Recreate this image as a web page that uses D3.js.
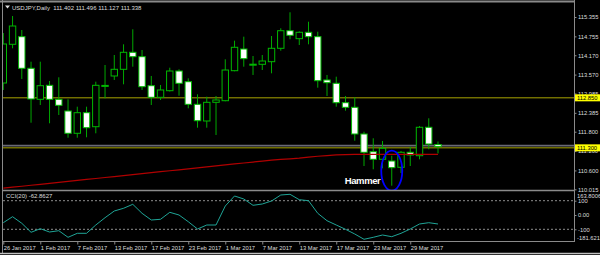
<!DOCTYPE html>
<html>
<head>
<meta charset="utf-8">
<script src="https://cdn.jsdelivr.net/npm/d3@7"></script>
<style>
body { margin: 0; background: #000; }
svg text { font-family: "Liberation Sans", Arial, sans-serif; white-space: pre; }
</style>
</head>
<body>
<svg id="chart" width="600" height="255"></svg>
<script>
var dates = ["26 Jan 2017","27 Jan 2017","30 Jan 2017","31 Jan 2017","1 Feb 2017","2 Feb 2017","3 Feb 2017","6 Feb 2017",
    "7 Feb 2017","8 Feb 2017","9 Feb 2017","10 Feb 2017","13 Feb 2017","14 Feb 2017","15 Feb 2017","16 Feb 2017",
    "17 Feb 2017","20 Feb 2017","21 Feb 2017","22 Feb 2017","23 Feb 2017","24 Feb 2017","27 Feb 2017","28 Feb 2017",
    "1 Mar 2017","2 Mar 2017","3 Mar 2017","6 Mar 2017","7 Mar 2017","8 Mar 2017","9 Mar 2017","10 Mar 2017",
    "13 Mar 2017","14 Mar 2017","15 Mar 2017","16 Mar 2017","17 Mar 2017","20 Mar 2017","21 Mar 2017","22 Mar 2017",
    "23 Mar 2017","24 Mar 2017","27 Mar 2017","28 Mar 2017","29 Mar 2017","30 Mar 2017","31 Mar 2017","3 Apr 2017"];

var opens  = [113.310,114.509,114.745,113.765,112.804,113.238,112.804,112.442,111.751,112.389,111.955,113.217,
              113.527,113.734,114.261,114.125,113.226,112.866,113.071,113.681,113.350,112.649,112.132,112.711,
              112.761,113.691,114.363,113.886,113.889,113.970,114.385,114.930,114.683,114.881,114.745,113.403,
              113.300,112.699,112.556,111.729,111.180,110.945,110.892,110.697,111.162,111.056,111.937,111.402];
var highs  = [114.859,115.386,114.952,113.970,113.970,113.372,113.486,112.804,112.575,112.575,113.350,113.867,
              114.177,114.509,114.974,114.332,113.527,113.248,113.784,113.734,113.455,112.959,112.885,112.907,
              114.044,114.621,114.745,114.146,114.177,114.766,115.005,115.501,114.912,115.209,114.899,113.558,
              113.505,112.907,112.866,111.800,111.596,111.512,111.056,111.202,111.335,111.977,112.216,111.496];
var lows   = [113.093,114.385,113.434,112.079,112.628,112.061,112.318,111.614,111.614,111.627,111.751,112.835,
              113.403,113.269,113.815,113.093,112.628,112.783,113.046,112.916,112.525,111.924,111.924,111.698,
              112.742,113.672,113.815,113.558,113.712,113.610,114.311,114.664,114.487,114.509,113.164,112.907,
              112.575,112.451,111.521,110.737,110.635,110.666,110.127,110.520,110.737,110.945,111.255,111.127];
var closes = [114.518,115.076,113.765,112.814,113.226,112.804,112.618,111.751,112.389,111.924,113.238,113.235,
              113.734,114.261,114.125,113.195,112.866,113.093,113.681,113.300,112.649,112.141,112.711,112.783,
              113.712,114.416,114.063,113.892,113.991,114.385,114.930,114.788,114.881,114.745,113.381,113.319,
              112.699,112.556,111.729,111.162,110.945,111.286,110.685,111.162,111.078,111.937,111.419,111.338];

var maValues = [110.05,110.08,110.11,110.14,110.17,110.20,110.23,110.26,110.29,110.32,110.35,110.38,
                110.41,110.44,110.47,110.50,110.53,110.56,110.59,110.62,110.65,110.68,110.71,110.74,
                110.77,110.80,110.83,110.86,110.89,110.92,110.94,110.96,110.98,111.01,111.04,111.06,
                111.08,111.09,111.10,111.10,111.10,111.10,111.10,111.10,111.10,111.10,111.10,111.10];

var cciValues = [-53.8,-11.9,-58.0,-121.0,-95.8,-118.9,-109.8,-156.0,-128.0,-128.0,-70.0,-18.9,
                 28.0,46.9,74.8,11.9,-35.0,-30.0,18.9,0.0,-46.9,-97.9,-70.0,-70.0,
                 62.9,132.9,111.9,67.8,76.9,97.9,139.9,144.8,107.0,100.0,11.9,-39.9,
                 -70.0,-100.0,-132.9,-169.9,-156.0,-139.9,-151.7,-128.0,-97.9,-62.9,-53.8,-62.86];

var dateTicks = ["26 Jan 2017","1 Feb 2017","7 Feb 2017","13 Feb 2017","17 Feb 2017","23 Feb 2017",
                 "1 Mar 2017","7 Mar 2017","13 Mar 2017","17 Mar 2017","23 Mar 2017","29 Mar 2017"];
var priceTicks = [115.355,114.755,114.170,113.570,112.985,112.385,111.800,111.200,110.600,110.015];
var cciTicks = [100, 0, -100];
var cciMax = 163.8006, cciMin = -181.6213;
var levelLines = [112.850, 111.300];
var bidPrice = 111.338;
var titleText = "USDJPY,Daily  111.402 111.496 111.127 111.338";
var cciTitle = "CCI(20) -62.8627";
var hammerIdx = 42;

var left = 3, right = 574;
var mainTop = 2, mainBottom = 190.5, cciTop = 191, cciBottom = 241.5;

var svg = d3.select("#chart");
svg.append("rect").attr("width", 600).attr("height", 255).attr("fill", "#000");

var x = d3.scalePoint().domain(dates).range([3.3, 438]);
var y = d3.scaleLinear().domain([110.015, 115.355]).range([189.3, 17]);
var yc = d3.scaleLinear().domain([-100, 100]).range([229.3, 200.7]);

svg.append("clipPath").attr("id", "mainClip")
    .append("rect").attr("x", left).attr("y", mainTop).attr("width", right - left).attr("height", mainBottom - mainTop);
svg.append("clipPath").attr("id", "cciClip")
    .append("rect").attr("x", left).attr("y", cciTop).attr("width", right - left).attr("height", cciBottom - cciTop);

var main = svg.append("g").attr("clip-path", "url(#mainClip)");

// level lines + bid line
main.selectAll("line.level")
    .data(levelLines)
    .enter().append("line")
    .attr("class", "level")
    .attr("x1", left).attr("x2", right)
    .attr("y1", function(d) { return y(d); })
    .attr("y2", function(d) { return y(d); })
    .attr("stroke", "#a8a400").attr("stroke-width", 1);

main.append("line")
    .attr("x1", left).attr("x2", right)
    .attr("y1", y(bidPrice) - 1).attr("y2", y(bidPrice) - 1)
    .attr("stroke", "#6a6a74").attr("stroke-width", 1.6);

var bars = dates.map(function(d, i) {
    return { date: d, o: opens[i], h: highs[i], l: lows[i], c: closes[i] };
});

main.selectAll("line.wick")
    .data(bars)
    .enter().append("line")
    .attr("class", "wick")
    .attr("x1", function(d) { return x(d.date); })
    .attr("x2", function(d) { return x(d.date); })
    .attr("y1", function(d) { return y(d.h); })
    .attr("y2", function(d) { return y(d.l); })
    .attr("stroke", "#00a800").attr("stroke-width", 1);

main.selectAll("rect.body")
    .data(bars)
    .enter().append("rect")
    .attr("class", "body")
    .attr("x", function(d) { return x(d.date) - 3.2; })
    .attr("width", 6.4)
    .attr("y", function(d) { return y(Math.max(d.o, d.c)); })
    .attr("height", function(d) { return Math.max(1, Math.abs(y(d.o) - y(d.c))); })
    .attr("fill", function(d) { return d.c < d.o ? "#fff" : "#000"; })
    .attr("stroke", "#00b800").attr("stroke-width", 1);

// moving average
var maLine = d3.line()
    .x(function(d, i) { return x(dates[i]); })
    .y(function(d) { return y(d); });
main.append("path")
    .datum(maValues)
    .attr("d", maLine)
    .attr("fill", "none")
    .attr("stroke", "#b00000").attr("stroke-width", 1.2);

// hammer marker
var hb = bars[hammerIdx];
var hx = x(hb.date);
var hcy = (y(hb.h) + y(hb.l)) / 2;
main.append("ellipse")
    .attr("cx", hx).attr("cy", hcy)
    .attr("rx", 10.5).attr("ry", (y(hb.l) - y(hb.h)) / 2 + 5)
    .attr("fill", "none").attr("stroke", "#0000ff").attr("stroke-width", 1.8);
main.append("text")
    .attr("x", hx - 11).attr("y", hcy + 13.5)
    .attr("text-anchor", "end")
    .attr("font-size", 9.5)
    .attr("font-weight", "bold")
    .attr("textLength", 36)
    .attr("fill", "#fff")
    .text("Hammer");

// CCI panel
var cci = svg.append("g").attr("clip-path", "url(#cciClip)");
cci.selectAll("line.lvl")
    .data([100, -100])
    .enter().append("line")
    .attr("x1", left).attr("x2", right)
    .attr("y1", function(d) { return yc(d); })
    .attr("y2", function(d) { return yc(d); })
    .attr("stroke", "#b0b0b0").attr("stroke-width", 0.8)
    .attr("stroke-dasharray", "2,2");

var cciLine = d3.line()
    .x(function(d, i) { return x(dates[i]); })
    .y(function(d) { return yc(d); });
cci.append("path")
    .datum(cciValues)
    .attr("d", cciLine)
    .attr("fill", "none")
    .attr("stroke", "#1fa496").attr("stroke-width", 1);

cci.append("text")
    .attr("x", 6).attr("y", 197.5)
    .attr("font-size", 6).attr("fill", "#ddd")
    .text(cciTitle);

// frame
var gray = "#8a8a8a";
svg.append("line").attr("x1", 0).attr("x2", right).attr("y1", 1.5).attr("y2", 1.5).attr("stroke", gray).attr("stroke-width", 2);
svg.append("line").attr("x1", 2.5).attr("x2", 2.5).attr("y1", 0).attr("y2", 253).attr("stroke", gray).attr("stroke-width", 1);
svg.append("line").attr("x1", right + 0.5).attr("x2", right + 0.5).attr("y1", 0).attr("y2", 242).attr("stroke", gray).attr("stroke-width", 1);
svg.append("line").attr("x1", 2).attr("x2", right).attr("y1", mainBottom).attr("y2", mainBottom).attr("stroke", gray).attr("stroke-width", 1.5);
svg.append("line").attr("x1", 2).attr("x2", right + 1).attr("y1", cciBottom).attr("y2", cciBottom).attr("stroke", gray).attr("stroke-width", 1);
svg.append("line").attr("x1", 0).attr("x2", 600).attr("y1", 253.5).attr("y2", 253.5).attr("stroke", "#c0c0c0").attr("stroke-width", 1.5);

// title
svg.append("path").attr("d", "M5,5.5 L10,5.5 L7.5,8.5 Z").attr("fill", "#ddd");
svg.append("text")
    .attr("x", 12).attr("y", 9.5)
    .attr("font-size", 6).attr("fill", "#ddd")
    .text(titleText);

// price axis
var priceAxis = svg.append("g")
    .attr("transform", "translate(" + (right + 0.5) + ",0)")
    .call(d3.axisRight(y).tickValues(priceTicks).tickSize(2).tickPadding(1.5).tickFormat(d3.format(".3f")));
priceAxis.select(".domain").remove();

var cciAxis = svg.append("g")
    .attr("transform", "translate(" + (right + 0.5) + ",0)")
    .call(d3.axisRight(yc).tickValues(cciTicks).tickSize(2).tickPadding(1.5)
        .tickFormat(function(d) { return d === 0 ? "0.00" : d; }));
cciAxis.select(".domain").remove();

[priceAxis, cciAxis].forEach(function(a) {
    a.attr("font-family", null).attr("font-size", null);
    a.selectAll("line").attr("stroke", gray);
    a.selectAll("text").attr("fill", "#ddd").attr("font-size", 5.8);
});

svg.selectAll("text.cciExt")
    .data([cciMax, cciMin])
    .enter().append("text")
    .attr("class", "cciExt")
    .attr("x", right + 3)
    .attr("y", function(d, i) { return i === 0 ? 197.5 : 239.5; })
    .attr("font-size", 5.8).attr("fill", "#ddd")
    .text(function(d) { return d.toFixed(4); });

// level labels
var lbl = svg.selectAll("g.lbl")
    .data(levelLines)
    .enter().append("g")
    .attr("transform", function(d) { return "translate(" + (right + 1) + "," + y(d) + ")"; });
lbl.append("rect")
    .attr("x", 0).attr("y", -3.5).attr("width", 25).attr("height", 7)
    .attr("fill", "#ffff00");
lbl.append("text")
    .attr("x", 2).attr("y", 2.2)
    .attr("font-size", 5.8).attr("fill", "#000")
    .text(function(d) { return d.toFixed(3); });

// date axis
var dateAxis = svg.append("g")
    .attr("transform", "translate(0," + cciBottom + ")")
    .call(d3.axisBottom(x).tickValues(dateTicks).tickSize(3).tickPadding(1.5));
dateAxis.select(".domain").remove();
dateAxis.attr("font-family", null).attr("font-size", null);
dateAxis.selectAll("line").attr("stroke", gray);
dateAxis.selectAll("text")
    .attr("text-anchor", "start")
    .attr("fill", "#ddd").attr("font-size", 5.8);
</script>
</body>
</html>
